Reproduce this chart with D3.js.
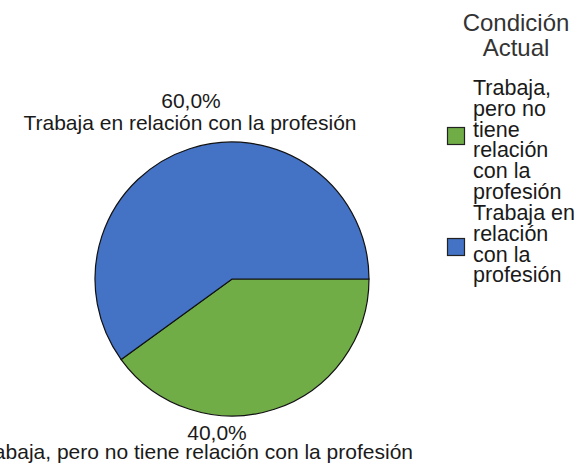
<!DOCTYPE html>
<html>
<head>
<meta charset="utf-8">
<title>Condición Actual</title>
<style>
  body { margin: 0; background: #fff; }
  svg { display: block; font-family: "Liberation Sans", Arial, sans-serif; }
  .slice path { stroke: #111; stroke-width: 1.2px; }
</style>
</head>
<body>
<svg width="582" height="466"></svg>
<script src="https://d3js.org/d3.v7.min.js"></script>
<script>

// data
var categories = ["Trabaja, pero no tiene relación con la profesión",
                  "Trabaja en relación con la profesión"];
var values = [40.0, 60.0];
var colors = ["#70ad47", "#4472c4"];
var legendTitle = ["Condición", "Actual"];
var legendLines = [
  ["Trabaja,", "pero no", "tiene", "relación", "con la", "profesión"],
  ["Trabaja en", "relación", "con la", "profesión"]
];

var svg = d3.select("svg");
var cx = 232, cy = 279, r = 137;

var pie = d3.pie()
    .sort(null)
    .value(function(d) { return d; })
    .startAngle(Math.PI / 2)
    .endAngle(Math.PI / 2 + 2 * Math.PI);

var arc = d3.arc().innerRadius(0).outerRadius(r);

var g = svg.append("g")
    .attr("class", "slice")
    .attr("transform", "translate(" + cx + "," + cy + ")");

g.selectAll("path")
  .data(pie(values))
  .enter().append("path")
    .attr("d", arc)
    .attr("fill", function(d, i) { return colors[i]; });

var fmt = function(v) { return d3.format(".1f")(v).replace(".", ",") + "%"; };

// slice labels (green below, blue above)
var labelPos = [
  {pct: [cx - 15, 440], name: [413, 459], anchor: "end"},
  {pct: [cx - 41, 108], name: [cx - 42, 130], anchor: "middle"}
];

values.forEach(function(v, i) {
  var p = labelPos[i];
  svg.append("text")
      .attr("x", p.pct[0]).attr("y", p.pct[1])
      .attr("text-anchor", "middle")
      .attr("font-size", 21)
      .attr("fill", "#1a1a1a")
      .text(fmt(v));
  svg.append("text")
      .attr("x", p.name[0]).attr("y", p.name[1])
      .attr("text-anchor", p.anchor)
      .attr("font-size", 21)
      .attr("fill", "#1a1a1a")
      .text(categories[i]);
});

// legend
var lg = svg.append("g");
lg.selectAll("text.title")
  .data(legendTitle)
  .enter().append("text")
    .attr("class", "title")
    .attr("x", 516)
    .attr("y", function(d, i) { return 31 + i * 25; })
    .attr("text-anchor", "middle")
    .attr("font-size", 24)
    .attr("fill", "#333")
    .text(function(d) { return d; });

var lineH = 20.8;
var startY = [95, 220];
var boxY = [127, 238];
legendLines.forEach(function(lines, k) {
  var y0 = startY[k];
  lg.append("rect")
      .attr("x", 447.5).attr("y", boxY[k] + 0.5)
      .attr("width", 17).attr("height", 17)
      .attr("fill", colors[k])
      .attr("stroke", "#222")
      .attr("stroke-width", 1.2);
  lines.forEach(function(t, j) {
    lg.append("text")
        .attr("x", 473)
        .attr("y", y0 + j * lineH)
        .attr("font-size", 21.5)
        .attr("fill", "#1a1a1a")
        .text(t);
  });
});

</script>
</body>
</html>
